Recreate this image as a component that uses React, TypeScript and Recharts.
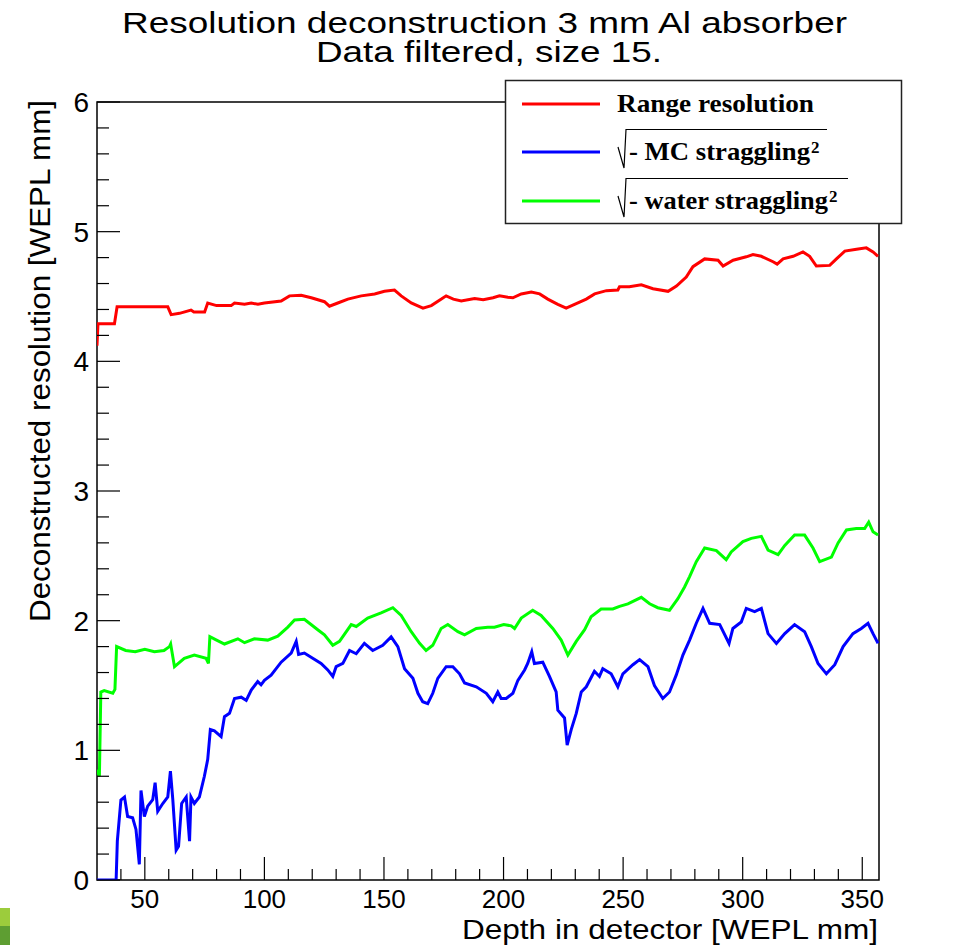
import { LineChart, Line, XAxis, YAxis, ReferenceArea } from 'recharts'

// depth in detector [WEPL mm] and deconstructed resolution [WEPL mm]
const redX = [30, 30.4, 37.3, 38.4, 59.6, 61, 64.5, 69.3, 70.5, 75, 76.3, 80, 86.1, 87.5, 91.7, 94.5, 97.3, 100, 107, 110.5, 115.4, 119.6, 125.1, 127.2, 130.7, 134.9, 140.5, 146.1, 150.2, 154.4, 157.2, 161.4, 166.3, 169.8, 174, 176, 179, 182.3, 187.9, 191.5, 195.6, 198.3, 201.8, 203.9, 207.4, 211.6, 215.1, 218.5, 222.7, 226.2, 230.4, 234.6, 238.1, 243, 247.8, 248.5, 252.6, 257.6, 262.5, 268.8, 272.3, 276.4, 279.2, 284.1, 289.7, 291.8, 296, 301.5, 304.3, 307.8, 312.7, 314.4, 316.9, 321.1, 325.2, 328, 330.8, 336.4, 339.2, 342.7, 347.6, 351.7, 354.5, 356.6]
const redY = [4.12, 4.29, 4.29, 4.42, 4.42, 4.36, 4.37, 4.395, 4.38, 4.38, 4.45, 4.43, 4.43, 4.45, 4.44, 4.45, 4.44, 4.45, 4.465, 4.505, 4.51, 4.49, 4.46, 4.425, 4.45, 4.48, 4.505, 4.52, 4.54, 4.55, 4.505, 4.45, 4.41, 4.43, 4.48, 4.505, 4.48, 4.465, 4.485, 4.475, 4.49, 4.505, 4.495, 4.49, 4.52, 4.535, 4.52, 4.48, 4.44, 4.41, 4.445, 4.48, 4.52, 4.545, 4.55, 4.575, 4.575, 4.59, 4.56, 4.54, 4.58, 4.65, 4.73, 4.79, 4.78, 4.735, 4.78, 4.806, 4.824, 4.81, 4.768, 4.75, 4.79, 4.81, 4.844, 4.81, 4.735, 4.74, 4.79, 4.85, 4.865, 4.875, 4.844, 4.81]

const blueX = [30, 38, 38.5, 40, 41.5, 42.8, 44.9, 46.3, 47.7, 48.4, 49.8, 51.2, 53.3, 54.3, 55.4, 57.5, 59.6, 60.7, 61.7, 63.1, 64.1, 65.4, 67.3, 68.7, 69.3, 70.7, 72.8, 74.9, 76.3, 77.4, 79.1, 81.9, 83.3, 85.4, 87.5, 90.3, 92.4, 94.5, 97.2, 98.6, 100, 102.8, 107, 111.2, 113.3, 114.3, 116.7, 120.2, 123.7, 126.5, 128.6, 130, 132.8, 135.6, 138.4, 141.8, 145.3, 149.5, 153, 155.8, 158.6, 162.1, 164.2, 166.2, 168.3, 170.4, 172.5, 176, 178.8, 181.6, 183.7, 188.6, 192.8, 195.5, 197.6, 199, 201.1, 203.9, 206, 208.8, 210.1, 211.8, 212.9, 216.4, 219.2, 222, 222.7, 225.5, 226.6, 228.3, 230.4, 232.5, 234.6, 238, 240.1, 241.5, 245, 247.8, 249.9, 254.1, 256.9, 260.4, 263.1, 266.6, 269.4, 272.2, 275, 277.8, 280.6, 283.4, 286.2, 290.4, 294.3, 295.9, 299.4, 301.5, 305, 307.8, 310.6, 314.1, 317.6, 321.7, 325.9, 328.7, 331.5, 335, 338.5, 342, 346.1, 349.6, 352.4, 354.5, 356.6]
const blueY = [0, 0, 0.3, 0.617, 0.64, 0.49, 0.48, 0.39, 0.12, 0.69, 0.49, 0.57, 0.62, 0.75, 0.53, 0.59, 0.64, 0.84, 0.62, 0.23, 0.26, 0.59, 0.64, 0.3, 0.64, 0.59, 0.64, 0.8, 0.93, 1.16, 1.15, 1.105, 1.26, 1.285, 1.4, 1.41, 1.385, 1.465, 1.53, 1.505, 1.54, 1.58, 1.68, 1.75, 1.84, 1.74, 1.75, 1.71, 1.67, 1.62, 1.57, 1.645, 1.67, 1.77, 1.745, 1.825, 1.77, 1.81, 1.875, 1.8, 1.63, 1.555, 1.44, 1.375, 1.36, 1.44, 1.555, 1.645, 1.645, 1.59, 1.52, 1.49, 1.44, 1.375, 1.45, 1.4, 1.4, 1.44, 1.54, 1.62, 1.67, 1.76, 1.67, 1.68, 1.57, 1.45, 1.31, 1.25, 1.04, 1.16, 1.285, 1.45, 1.49, 1.61, 1.57, 1.63, 1.59, 1.49, 1.59, 1.66, 1.7, 1.645, 1.5, 1.4, 1.45, 1.58, 1.735, 1.85, 1.98, 2.095, 1.98, 1.97, 1.825, 1.94, 1.99, 2.095, 2.07, 2.095, 1.9, 1.825, 1.9, 1.97, 1.915, 1.8, 1.67, 1.59, 1.66, 1.8, 1.9, 1.94, 1.98, 1.9, 1.825]

const greenX = [30, 31, 31.6, 33, 36.6, 37.5, 38.2, 42, 46, 50, 54, 58, 60.3, 60.8, 62.4, 66.5, 70.7, 75.6, 76.6, 77.2, 80, 83.3, 88.9, 91.7, 95.8, 101.4, 105.6, 109.8, 112.6, 116.7, 119.5, 122.3, 125.1, 128.6, 131.4, 136.3, 138.4, 143.2, 148.8, 153.7, 157.2, 161.4, 164.9, 167.6, 170.4, 173.9, 176.7, 180.9, 183.7, 188.6, 193.4, 196.2, 200.1, 203.2, 204.6, 207.4, 212.2, 215.7, 220.6, 224.1, 226.9, 230.4, 233.9, 236.6, 240.8, 245.7, 248.5, 252, 257.6, 261.1, 264.5, 269.4, 272.9, 275.7, 277.8, 280.6, 284.1, 289, 293.1, 295.2, 300.1, 303.6, 307.8, 310.6, 314.8, 317.6, 321.7, 325.9, 329.4, 332.2, 337.1, 339.9, 343.4, 347.5, 351, 352.7, 354.5, 356.6]
const greenY = [0.85, 0.8, 1.45, 1.46, 1.44, 1.47, 1.8, 1.77, 1.76, 1.78, 1.76, 1.77, 1.8, 1.82, 1.645, 1.71, 1.735, 1.71, 1.67, 1.876, 1.85, 1.82, 1.86, 1.83, 1.86, 1.85, 1.88, 1.95, 2.005, 2.01, 1.97, 1.93, 1.89, 1.81, 1.84, 1.97, 1.955, 2.02, 2.06, 2.1, 2.04, 1.915, 1.825, 1.77, 1.81, 1.94, 1.97, 1.915, 1.89, 1.94, 1.95, 1.95, 1.97, 1.96, 1.94, 2.02, 2.08, 2.04, 1.94, 1.85, 1.735, 1.84, 1.93, 2.03, 2.09, 2.09, 2.11, 2.13, 2.18, 2.13, 2.1, 2.08, 2.17, 2.26, 2.34, 2.455, 2.56, 2.54, 2.47, 2.53, 2.61, 2.635, 2.65, 2.545, 2.51, 2.58, 2.66, 2.66, 2.56, 2.455, 2.49, 2.6, 2.7, 2.71, 2.71, 2.76, 2.685, 2.66]

const xTicks = [40, 50, 60, 70, 80, 90, 100, 110, 120, 130, 140, 150, 160, 170, 180, 190, 200, 210, 220, 230, 240, 250, 260, 270, 280, 290, 300, 310, 320, 330, 340, 350]
const yTicks = [0, 0.2, 0.4, 0.6, 0.8, 1, 1.2, 1.4, 1.6, 1.8, 2, 2.2, 2.4, 2.6, 2.8, 3, 3.2, 3.4, 3.6, 3.8, 4, 4.2, 4.4, 4.6, 4.8, 5, 5.2, 5.4, 5.6, 5.8, 6]

const toPoints = (xs: number[], ys: number[]) => xs.map((x, i) => ({ x, y: ys[i] }))
const redData = toPoints(redX, redY)
const blueData = toPoints(blueX, blueY)
const greenData = toPoints(greenX, greenY)

const FONT = '"Liberation Sans", Arial, sans-serif'
const SERIF = '"Liberation Serif", "Times New Roman", serif'

const isInt = (v: number) => Math.abs(v - Math.round(v)) < 1e-6

function XTick(props: any) {
  const { x, y, payload } = props
  const major = payload.value % 50 === 0
  return (
    <g>
      <line x1={x} x2={x} y1={y} y2={y - (major ? 23 : 11)} stroke="#000" strokeWidth={1.2} />
      {major && (
        <text x={x} y={y + 28} textAnchor="middle" fontFamily={FONT} fontSize={26} fill="#000">
          {payload.value}
        </text>
      )}
    </g>
  )
}

function YTick(props: any) {
  const { x, y, payload } = props
  const major = isInt(payload.value)
  return (
    <g>
      <line x1={x} x2={x + (major ? 23 : 12)} y1={y} y2={y} stroke="#000" strokeWidth={1.2} />
      {major && (
        <text x={x - 8} y={y + 10} textAnchor="end" fontFamily={FONT} fontSize={28} fill="#000">
          {Math.round(payload.value)}
        </text>
      )}
    </g>
  )
}

export default function App() {
  return (
    <div style={{ position: 'absolute', left: 0, top: 0, width: 964, height: 945, background: '#fff' }}>
      <LineChart width={964} height={945} margin={{ top: 102, right: 85, bottom: 0, left: 0 }}>
        <XAxis
          type="number"
          dataKey="x"
          domain={[30, 357]}
          ticks={xTicks}
          interval={0}
          height={65}
          tickSize={0}
          tickMargin={0}
          axisLine={false}
          tickLine={false}
          tick={<XTick />}
          allowDataOverflow
        />
        <YAxis
          type="number"
          dataKey="y"
          domain={[0, 6]}
          ticks={yTicks}
          interval={0}
          width={97}
          tickSize={0}
          tickMargin={0}
          axisLine={false}
          tickLine={false}
          tick={<YTick />}
          allowDataOverflow
        />
        <ReferenceArea x1={30} x2={357} y1={0} y2={6} fill="none" fillOpacity={0} stroke="#000" strokeWidth={1.5} />
        <Line data={redData} dataKey="y" type="linear" stroke="#ff0000" strokeWidth={3} dot={false} isAnimationActive={false} />
        <Line data={blueData} dataKey="y" type="linear" stroke="#0000ff" strokeWidth={3} dot={false} isAnimationActive={false} />
        <Line data={greenData} dataKey="y" type="linear" stroke="#00ff00" strokeWidth={3} dot={false} isAnimationActive={false} />
      </LineChart>

      <svg width={964} height={945} style={{ position: 'absolute', left: 0, top: 0, pointerEvents: 'none' }}>
        {/* titles */}
        <text x={122} y={33} fontFamily={FONT} fontSize={29} textLength={725} lengthAdjust="spacingAndGlyphs">
          Resolution deconstruction 3 mm Al absorber
        </text>
        <text x={316} y={62} fontFamily={FONT} fontSize={29} textLength={346} lengthAdjust="spacingAndGlyphs">
          Data filtered, size 15.
        </text>
        <text x={462} y={939} fontFamily={FONT} fontSize={28} textLength={416} lengthAdjust="spacingAndGlyphs">
          Depth in detector [WEPL mm]
        </text>
        <text
          x={0}
          y={0}
          transform="translate(50 361) rotate(-90)"
          fontFamily={FONT}
          fontSize={29}
          textAnchor="middle"
          textLength={522}
          lengthAdjust="spacingAndGlyphs"
        >
          Deconstructed resolution [WEPL mm]
        </text>

        {/* legend */}
        <rect x={505.5} y={80.5} width={396} height={143} fill="#fff" stroke="#222" strokeWidth={1.5} />
        <line x1={522} x2={600} y1={104} y2={104} stroke="#ff0000" strokeWidth={3} />
        <line x1={522} x2={600} y1={152} y2={152} stroke="#0000ff" strokeWidth={3} />
        <line x1={522} x2={600} y1={201} y2={201} stroke="#00ff00" strokeWidth={3} />
        <text x={617} y={112} fontFamily={SERIF} fontWeight="bold" fontSize={25} textLength={197} lengthAdjust="spacingAndGlyphs">
          Range resolution
        </text>
        <polyline points="618,147 624,168 626,129.5 827,129.5" fill="none" stroke="#000" strokeWidth={1.2} />
        <text x={629} y={160} fontFamily={SERIF} fontWeight="bold" fontSize={25} textLength={181} lengthAdjust="spacingAndGlyphs">
          - MC straggling
        </text>
        <text x={811} y={153} fontFamily={SERIF} fontWeight="bold" fontSize={17}>2</text>
        <polyline points="618,196 624,217 626,178.5 848,178.5" fill="none" stroke="#000" strokeWidth={1.2} />
        <text x={629} y={209} fontFamily={SERIF} fontWeight="bold" fontSize={25} textLength={199} lengthAdjust="spacingAndGlyphs">
          - water straggling
        </text>
        <text x={829} y={202} fontFamily={SERIF} fontWeight="bold" fontSize={17}>2</text>

        {/* cut-off patch in the lower left corner */}
        <rect x={0} y={908} width={10} height={18} fill="#9ccc3c" />
        <rect x={0} y={926} width={10} height={19} fill="#5e9e32" />
      </svg>
    </div>
  )
}
